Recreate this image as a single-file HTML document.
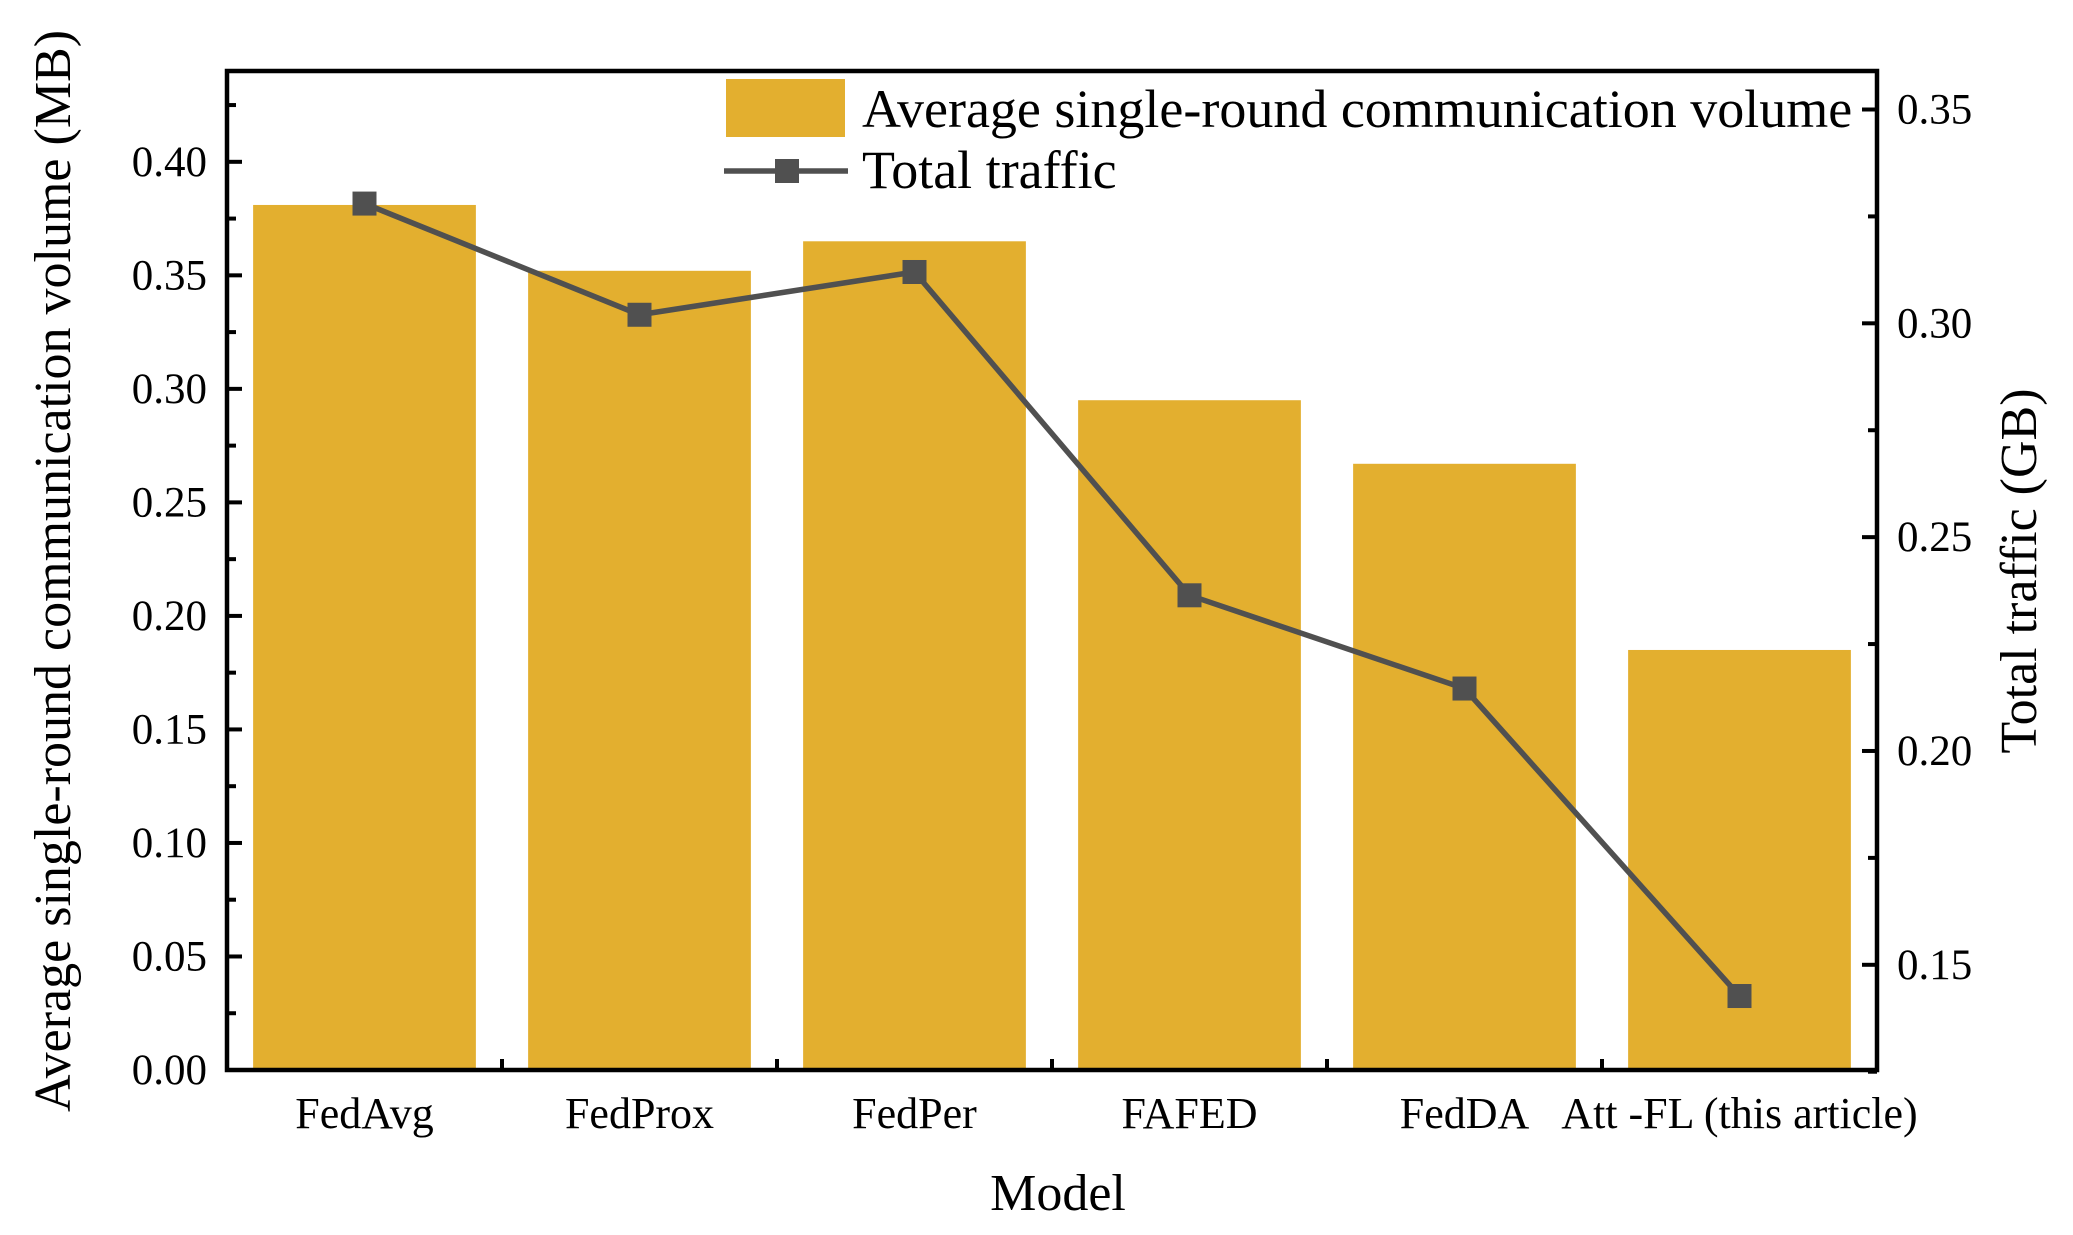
<!DOCTYPE html>
<html><head><meta charset="utf-8"><style>
html,body{margin:0;padding:0;background:#fff}
svg{display:block;font-family:"Liberation Serif",serif}
text{font-family:"Liberation Serif",serif}
</style></head><body>
<svg id="chart" width="2073" height="1235" viewBox="0 0 2073 1235" xmlns="http://www.w3.org/2000/svg"></svg>
<script>
const categories = ["FedAvg","FedProx","FedPer","FAFED","FedDA","Att -FL (this article)"];
const barValues = [0.381,0.352,0.365,0.295,0.267,0.185];
const lineValues = [0.328,0.302,0.312,0.2364,0.2146,0.1427];
const leftTicks = ["0.00","0.05","0.10","0.15","0.20","0.25","0.30","0.35","0.40"];
const rightTicks = ["0.15","0.20","0.25","0.30","0.35"];

const NS="http://www.w3.org/2000/svg";
const svg=document.getElementById('chart');
const L=227,R=1877,T=71,B=1070;
const lMin=0,lMax=0.44,rMin=0.1254,rMax=0.359;
const yL=v=>B-(v-lMin)/(lMax-lMin)*(B-T);
const yR=v=>B-(v-rMin)/(rMax-rMin)*(B-T);
const band=(R-L)/categories.length;
const xC=i=>L+band*(i+0.5);
function mk(tag,attrs,parent){const e=document.createElementNS(NS,tag);for(const k in attrs)e.setAttribute(k,attrs[k]);(parent||svg).appendChild(e);return e;}

categories.forEach((c,i)=>{
  const w=band*0.81;
  const r=mk('rect',{x:xC(i)-w/2,y:yL(barValues[i]),width:w,height:B-yL(barValues[i]),fill:'#E3AF2F'});
  
  
});
const pts=lineValues.map((v,i)=>xC(i)+','+yR(v)).join(' ');
const pl=mk('polyline',{points:pts,fill:'none',stroke:'#505050','stroke-width':5.5});


lineValues.forEach((v,i)=>{
  const m=mk('rect',{x:xC(i)-12,y:yR(v)-12,width:24,height:24,fill:'#505050'});
  
  
});
const fr=mk('rect',{x:L,y:T,width:R-L,height:B-T,fill:'none',stroke:'#000','stroke-width':4.5});


for(let k=0;k<=17;k++){
  const v=k*0.025; if(v>lMax) break;
  const y=yL(v), major=k%2===0;
  mk('line',{x1:L,x2:L+(major?15:9),y1:y,y2:y,stroke:'#000','stroke-width':4});
}
leftTicks.forEach(t=>{
  const e=mk('text',{x:L-20,y:yL(parseFloat(t))+14,'text-anchor':'end','font-size':43});
  e.textContent=t;
  
  
});
for(let v=0.125;v<rMax;v+=0.025){
  const y=yR(v), major=Math.round(v*1000)%50===0;
  mk('line',{x1:R,x2:R-(major?15:9),y1:y,y2:y,stroke:'#000','stroke-width':4});
}
rightTicks.forEach(t=>{
  const e=mk('text',{x:R+20,y:yR(parseFloat(t))+14,'font-size':43});
  e.textContent=t;
  
  
});
categories.forEach((c,i)=>{
  if(i>0) mk('line',{x1:L+band*i,x2:L+band*i,y1:B,y2:B-11,stroke:'#000','stroke-width':4});
  const e=mk('text',{x:xC(i),y:1128,'text-anchor':'middle','font-size':44});
  e.textContent=c;
  
  
});
</script>
<script>
(function(){
const NS="http://www.w3.org/2000/svg",svg=document.getElementById('chart');
function t(txt,attrs,name){const e=document.createElementNS(NS,'text');for(const k in attrs)e.setAttribute(k,attrs[k]);e.textContent=txt;svg.appendChild(e);


return e;}
t('Model',{x:1058,y:1210,'text-anchor':'middle','font-size':52},'x-axis-title');
t('Average single-round communication volume (MB)',{x:0,y:0,transform:'translate(70,571) rotate(-90)','text-anchor':'middle','font-size':52},'left-axis-title');
t('Total traffic (GB)',{x:0,y:0,transform:'translate(2036,571) rotate(-90)','text-anchor':'middle','font-size':52},'right-axis-title');
const g=document.createElementNS(NS,'g');svg.appendChild(g);


g.innerHTML='<rect x="726" y="79" width="119" height="58" fill="#E3AF2F"/>'+
'<line x1="724" x2="848" y1="171" y2="171" stroke="#505050" stroke-width="5.5"/>'+
'<rect x="775" y="159" width="24" height="24" fill="#505050"/>'+
'<text x="862" y="127" font-size="54">Average single-round communication volume</text>'+
'<text x="862" y="188" font-size="54">Total traffic</text>';
})();
</script>
</body></html>
